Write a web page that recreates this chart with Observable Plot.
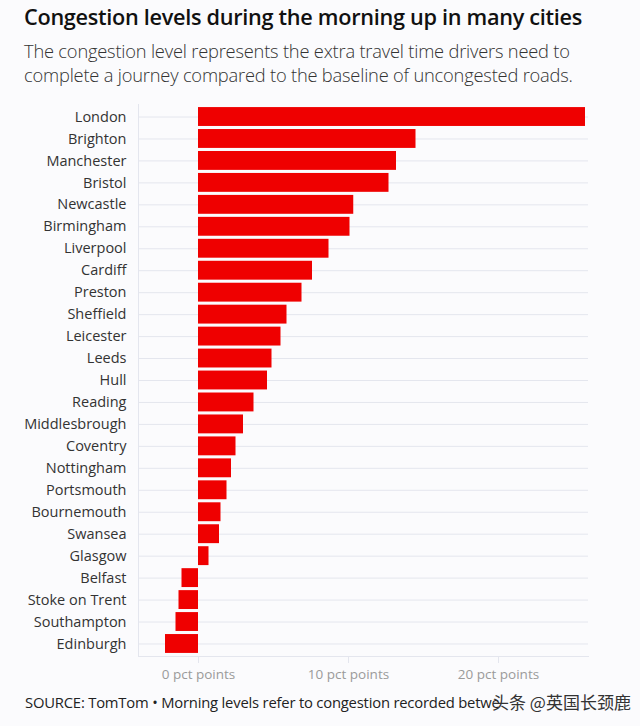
<!DOCTYPE html>
<html>
<head>
<meta charset="utf-8">
<script src="https://cdn.jsdelivr.net/npm/d3@7"></script>
<script src="https://cdn.jsdelivr.net/npm/@observablehq/plot@0.6"></script>
<style>
  html, body { margin: 0; padding: 0; background: #fbfbfd; }
  body { width: 640px; height: 726px; overflow: hidden; font-family: "Open Sans", sans-serif; color: #222; position: relative; }
  #title { position: absolute; left: 24px; top: 2px; font-size: 21.7px; font-weight: 600; color: #111; letter-spacing: -0.3px; white-space: nowrap; }
  #subtitle { position: absolute; left: 24px; top: 39px; font-size: 18.3px; font-weight: 300; color: #333; line-height: 24px; letter-spacing: -0.2px; white-space: nowrap; }
  #chart { position: absolute; left: 0; top: 96px; }
  #caption { position: absolute; left: 25px; top: 692px; font-size: 14.8px; color: #222; white-space: nowrap; letter-spacing: -0.2px; }
  #mark { position: absolute; left: 492px; top: 689px; font-size: 17px; color: #333; white-space: nowrap; font-family: "Noto Sans CJK SC", sans-serif; }
</style>
</head>
<body>
<div id="title">Congestion levels during the morning up in many cities</div>
<div id="subtitle">The congestion level represents the extra travel time drivers need to<br>complete a journey compared to the baseline of uncongested roads.</div>
<div id="chart"></div>
<div id="caption">SOURCE: TomTom • Morning levels refer to congestion recorded betwe</div>
<div id="mark">头条 @英国长颈鹿</div>
<script>
const cities = ["London","Brighton","Manchester","Bristol","Newcastle","Birmingham","Liverpool","Cardiff","Preston","Sheffield","Leicester","Leeds","Hull","Reading","Middlesbrough","Coventry","Nottingham","Portsmouth","Bournemouth","Swansea","Glasgow","Belfast","Stoke on Trent","Southampton","Edinburgh"];
const values = [25.8,14.5,13.2,12.7,10.35,10.1,8.7,7.6,6.9,5.9,5.5,4.9,4.6,3.7,3.0,2.5,2.2,1.9,1.5,1.4,0.7,-1.1,-1.3,-1.5,-2.2];
const xTicks = [0,10,20];
const xDomain = [-4, 26];

const data = cities.map((c, i) => ({city: c, value: values[i]}));

const chart = Plot.plot({
  width: 640,
  height: 590,
  marginTop: 8,
  marginBottom: 30,
  marginLeft: 138,
  marginRight: 52,
  style: {background: "transparent", fontFamily: "Open Sans, sans-serif"},
  x: {domain: xDomain, ticks: xTicks, tickFormat: d => `${d} pct points`, label: null},
  y: {domain: cities, label: null, padding: 0.14, round: false},
  marks: [
    Plot.gridY({stroke: "#e4e6ee", strokeOpacity: 1, strokeWidth: 1}),
    Plot.frame({anchor: "left", stroke: "#e4e6ee", strokeOpacity: 1}),
    Plot.frame({anchor: "bottom", stroke: "#e4e6ee", strokeOpacity: 1}),
    Plot.barX(data, {x: "value", y: "city", fill: "#ef0000"}),
    Plot.axisX({ticks: xTicks, tickFormat: d => `${d} pct points`, tickSize: 7, tickPadding: 6, stroke: "#e4e6ee", color: "#9a9a9a", fontSize: 13.5, label: null}),
    Plot.axisY({tickSize: 0, tickPadding: 12, fontSize: 14.5, color: "#333", label: null})
  ]
});
document.getElementById("chart").appendChild(chart);
</script>
</body>
</html>
